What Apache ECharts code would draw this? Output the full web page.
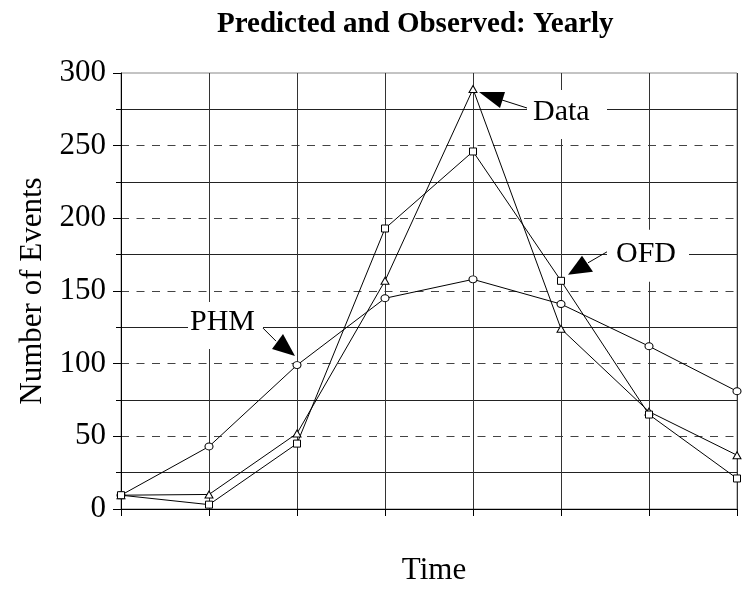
<!DOCTYPE html>
<html>
<head>
<meta charset="utf-8">
<script src="https://cdn.jsdelivr.net/npm/echarts@6/dist/echarts.min.js"></script>
<style>
  html, body { margin: 0; padding: 0; background: #fff; }
  #main { width: 744px; height: 591px; }
</style>
</head>
<body>
<div id="main"></div>
<script>
// Yearly counts: observed data and the two model predictions
const years = ['1', '2', '3', '4', '5', '6', '7', '8'];
const phmValues = [9.5, 43, 99, 145, 158, 141, 112, 81];
const dataValues = [9.5, 10, 52, 157, 289, 124, 67, 37];
const ofdValues = [9.5, 3, 45, 193, 246, 157, 65, 21];
const yTicks = [0, 50, 100, 150, 200, 250, 300];

const SERIF = '"Liberation Serif", "Times New Roman", serif';

const chart = echarts.init(document.getElementById('main'));

function lineSeries(name, values, symbol, size) {
  return {
    name: name,
    type: 'line',
    data: values,
    symbol: symbol,
    symbolSize: size,
    showAllSymbol: true,
    z: 5,
    lineStyle: { color: '#000', width: 1 },
    itemStyle: { color: '#fff', borderColor: '#000', borderWidth: 1 },
    emphasis: { disabled: true },
    animation: false
  };
}

chart.setOption({
  animation: false,
  backgroundColor: '#fff',
  title: {
    text: 'Predicted and Observed: Yearly',
    left: 212,
    top: 5,
    textStyle: { fontFamily: SERIF, fontWeight: 'bold', fontSize: 29, color: '#000' }
  },
  grid: {
    left: 121, right: 7, top: 73, bottom: 81,
    show: true, borderColor: '#888', borderWidth: 1, backgroundColor: 'transparent'
  },
  xAxis: {
    type: 'category',
    data: years,
    boundaryGap: false,
    name: 'Time',
    nameLocation: 'middle',
    nameGap: 46,
    nameTextStyle: { fontFamily: SERIF, fontSize: 31, color: '#000', padding: [0, 0, 0, 10] },
    axisLine: { lineStyle: { color: '#000', width: 1 } },
    axisTick: { show: true, length: 7, lineStyle: { color: '#000' } },
    axisLabel: { show: false },
    splitLine: { show: true, lineStyle: { color: '#333', width: 1, type: 'solid' } }
  },
  yAxis: {
    type: 'value',
    min: yTicks[0],
    max: yTicks[yTicks.length - 1],
    interval: yTicks[1] - yTicks[0],
    name: 'Number of Events',
    nameLocation: 'middle',
    nameGap: 69,
    nameTextStyle: { fontFamily: SERIF, fontSize: 31, color: '#000' },
    axisLine: { show: true, lineStyle: { color: '#000', width: 1 } },
    axisTick: { show: true, length: 8, lineStyle: { color: '#000' } },
    minorTick: { show: true, splitNumber: 2, length: 5, lineStyle: { color: '#000' } },
    axisLabel: { fontFamily: SERIF, fontSize: 31, color: '#000', margin: 15 },
    splitLine: {
      show: true, showMinLine: false, showMaxLine: false,
      lineStyle: { color: '#444', width: 1, type: [8, 7.5] }
    },
    minorSplitLine: { show: true, lineStyle: { color: '#222', width: 1 } }
  },
  series: [
    lineSeries('PHM', phmValues, 'circle', [8, 7]),
    lineSeries('Data', dataValues, 'triangle', [8, 7]),
    lineSeries('OFD', ofdValues, 'rect', 7)
  ]
});

// Callout labels: white box, text, arrow head and tail, placed relative to the point they name
const callouts = [
  { text: 'Data', series: 1, index: 4,
    box: [54, 1, 80, 49], textPos: [60, 23],
    head: [[6, 3], [32, 3], [27, 19]], tail: [29, 11, 54, 19] },
  { text: 'OFD', series: 2, index: 5,
    box: [46, -51, 82, 52], textPos: [55, -27],
    head: [[7, -6], [21, -25], [32, -9]], tail: [27, -18, 46, -29] },
  { text: 'PHM', series: 0, index: 2,
    box: [-109, -63, 75, 47], textPos: [-107, -43],
    head: [[-2, -9], [-25, -16], [-14, -31]], tail: [-21, -24, -34, -37] }
];
const seriesValues = [phmValues, dataValues, ofdValues];

const elements = [];
callouts.forEach(function (c) {
  const p = chart.convertToPixel({ gridIndex: 0 }, [c.index, seriesValues[c.series][c.index]]);
  elements.push({
    type: 'rect', z: 20,
    shape: { x: p[0] + c.box[0], y: p[1] + c.box[1], width: c.box[2], height: c.box[3] },
    style: { fill: '#fff' }
  });
  elements.push({
    type: 'text', z: 21,
    x: p[0] + c.textPos[0], y: p[1] + c.textPos[1],
    style: { text: c.text, fontFamily: SERIF, fontSize: 30, fill: '#000', align: 'left', verticalAlign: 'middle' }
  });
  elements.push({
    type: 'polygon', z: 21,
    shape: { points: c.head.map(function (o) { return [p[0] + o[0], p[1] + o[1]]; }) },
    style: { fill: '#000' }
  });
  elements.push({
    type: 'line', z: 21,
    shape: { x1: p[0] + c.tail[0], y1: p[1] + c.tail[1], x2: p[0] + c.tail[2], y2: p[1] + c.tail[3] },
    style: { stroke: '#000', lineWidth: 1 }
  });
});
chart.setOption({ graphic: { elements: elements } });
</script>
</body>
</html>
